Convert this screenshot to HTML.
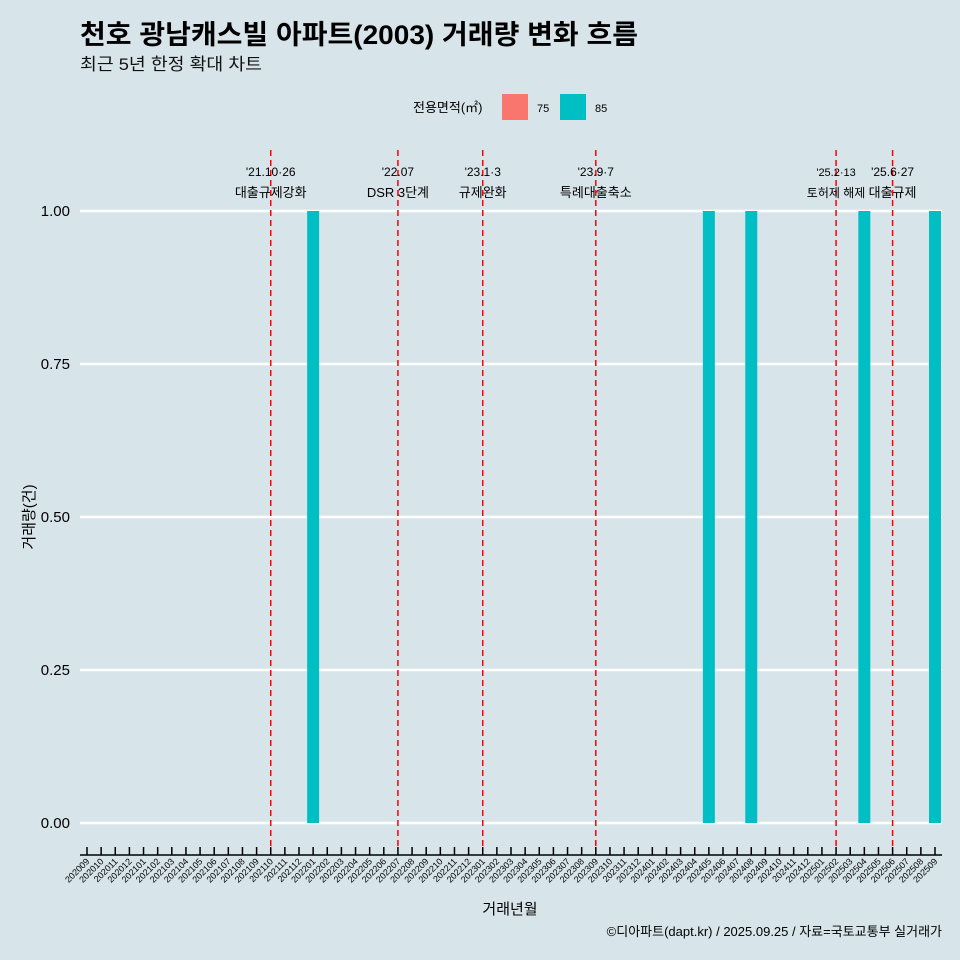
<!DOCTYPE html>
<html><head><meta charset="utf-8"><style>
html,body{margin:0;padding:0;overflow:hidden;background:#d7e4ea;}
svg{display:block;}
svg text{font-family:"Liberation Sans","Noto Sans CJK KR",sans-serif;}
</style></head><body>
<svg id="c" width="960" height="960" xmlns="http://www.w3.org/2000/svg">
<rect width="960" height="960" fill="#d7e4ea"/>
<text x="80" y="44" font-size="27" font-weight="bold" fill="#000" textLength="558" lengthAdjust="spacingAndGlyphs">천호 광남캐스빌 아파트(2003) 거래량 변화 흐름</text>
<text x="80" y="70" font-size="17" fill="#111" textLength="182" lengthAdjust="spacingAndGlyphs">최근 5년 한정 확대 차트</text>
<g>
<text x="413" y="112" font-size="13">전용면적(㎡)</text>
<rect x="502" y="94" width="26" height="26" fill="#f8766d"/>
<text x="537" y="112" font-size="11">75</text>
<rect x="560" y="94" width="26" height="26" fill="#00bfc4"/>
<text x="595" y="112" font-size="11">85</text>
</g>
<g id="plot"></g>
<text x="510" y="914" font-size="15" text-anchor="middle">거래년월</text>
<text transform="translate(34,517) rotate(-90)" font-size="15" text-anchor="middle">거래량(건)</text>
<text x="942" y="936" font-size="13" text-anchor="end">©디아파트(dapt.kr) / 2025.09.25 / 자료=국토교통부 실거래가</text>
</svg>
<script>
const categories=[];
for(let y=2020,m=9;y*100+m<=202509;){categories.push(String(y*100+m));m++;if(m>12){m=1;y++;}}
const barMonths=["202201","202405","202408","202504","202509"];
const barValues=[1,1,1,1,1];
const yTicks=[0,0.25,0.5,0.75,1];
const yTickLabels=["0.00","0.25","0.50","0.75","1.00"];
const eventMonths=["202110","202207","202301","202309","202502","202506"];
const eventDates=["'21.10·26","'22.07","'23.1·3","'23.9·7","'25.2·13","'25.6·27"];
const eventLabels=["대출규제강화","DSR 3단계","규제완화","특례대출축소","토허제 해제","대출규제"];
const NS="http://www.w3.org/2000/svg";
const g=document.getElementById('plot');
const x0=87,x1=935,y0=823,y1=211;
function xs(c){return x0+categories.indexOf(c)*(x1-x0)/(categories.length-1);}
function ys(v){return y0+(y1-y0)*v;}
function mk(t,a,p){const e=document.createElementNS(NS,t);for(const k in a)e.setAttribute(k,a[k]);(p||g).appendChild(e);return e;}
yTicks.forEach((v,i)=>{
 const l=mk('line',{x1:80,x2:942,y1:ys(v),y2:ys(v),stroke:'#fff','stroke-width':2.5});
 
 
 const t=mk('text',{x:70,y:ys(v)+5,'font-size':15,'text-anchor':'end'});t.textContent=yTickLabels[i];
 
 
});
barMonths.forEach((c,i)=>{
 const r=mk('rect',{x:xs(c)-6,y:ys(barValues[i]),width:12,height:ys(0)-ys(barValues[i]),fill:'#00bfc4'});
 
 
});
eventMonths.forEach((c,i)=>{
 const x=xs(c);
 const l=mk('line',{x1:x,x2:x,y1:150,y2:847,stroke:'#ff0000','stroke-width':1.5,'stroke-dasharray':'6,4'});
 
 
 const small=i===4;
 const t1=mk('text',{x:x,y:176,'font-size':small?11:12,'text-anchor':'middle'});t1.textContent=eventDates[i];
 
 
 const t2=mk('text',{x:x,y:197,'font-size':small?12:13,'text-anchor':'middle'});t2.textContent=eventLabels[i];
 
 
});
const ax=mk('line',{x1:80,x2:942,y1:855,y2:855,stroke:'#000','stroke-width':1.5});


categories.forEach(c=>{
 const x=xs(c);
 const tk=mk('line',{x1:x,x2:x,y1:847,y2:855,stroke:'#000','stroke-width':1.5});
 
 
 const t=mk('text',{transform:`translate(${x+3},${862}) rotate(-45)`,'font-size':9,'text-anchor':'end'});t.textContent=c;
 
 
});
</script>
</body></html>
